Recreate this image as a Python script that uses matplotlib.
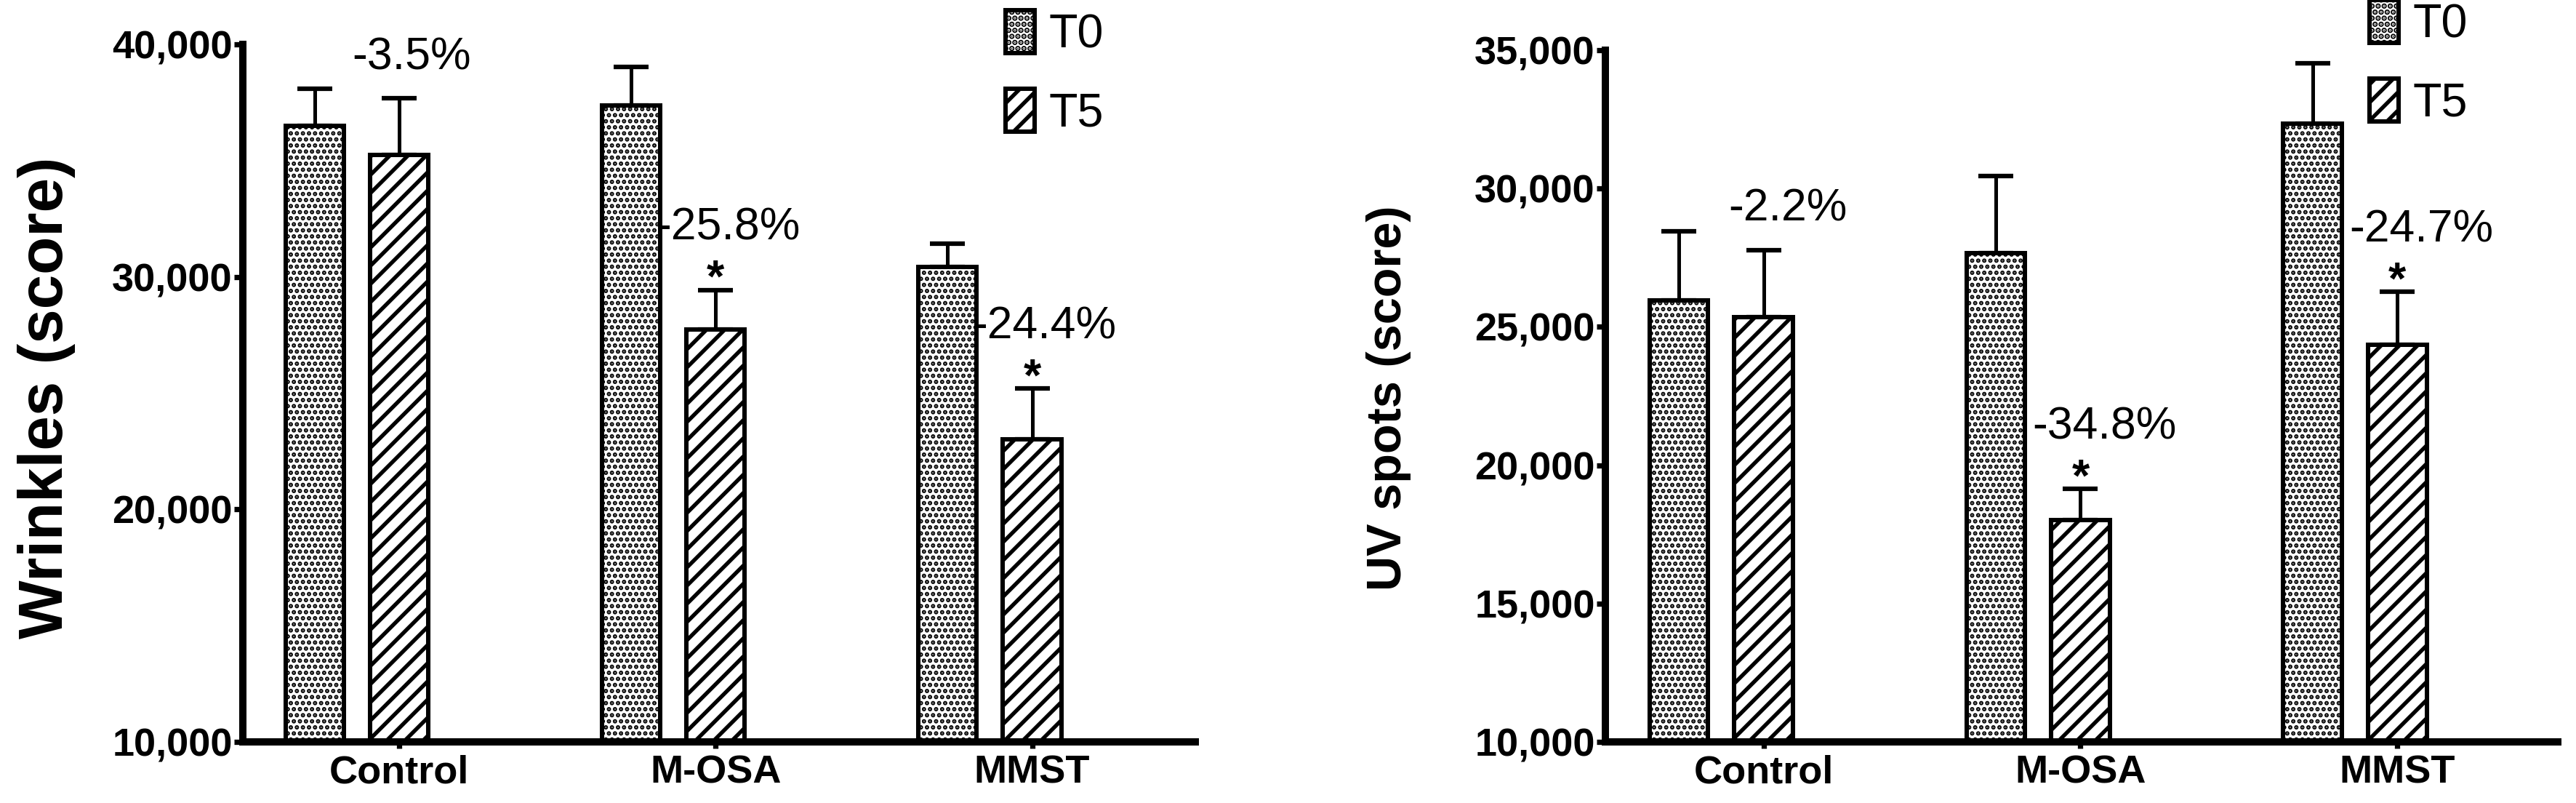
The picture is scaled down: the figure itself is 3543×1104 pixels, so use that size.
import matplotlib
matplotlib.use('Agg')
import matplotlib.pyplot as plt
from matplotlib.patches import Patch
from matplotlib.ticker import FuncFormatter
import numpy as np

# data
groups = ['Control', 'M-OSA', 'MMST']
series = ['T0', 'T5']

wrinkles_t0 = [36500, 37380, 30440]
wrinkles_t0_err = [1600, 1660, 980]
wrinkles_t5 = [35230, 27730, 23000]
wrinkles_t5_err = [2460, 1710, 2200]
wrinkles_pct = ['-3.5%', '-25.8%', '-24.4%']
wrinkles_star = [False, True, True]
wrinkles_ticks = [10000, 20000, 30000, 40000]

uv_t0 = [25950, 27670, 32340]
uv_t0_err = [2500, 2770, 2180]
uv_t5 = [25350, 18030, 24350]
uv_t5_err = [2430, 1120, 1910]
uv_pct = ['-2.2%', '-34.8%', '-24.7%']
uv_star = [False, True, True]
uv_ticks = [10000, 15000, 20000, 25000, 30000, 35000]

DPI = 150
W, H = 3543, 1104
OFF = 0.134
BW = 0.184
DOT_LW = 2.0
LINE_LW = 2.6

plt.rcParams['font.family'] = ['Liberation Sans', 'DejaVu Sans']
plt.rcParams['hatch.color'] = 'black'


def draw_panel(ax, t0, t0_err, t5, t5_err, pct, star, ticks, xlim, ylabel, label_size, label_x, pct_dx):
	x = np.arange(len(groups))

	plt.rcParams['hatch.linewidth'] = DOT_LW
	b0 = ax.bar(x - OFF, t0, BW, color='white', edgecolor='black', linewidth=2.9, hatch='...', zorder=2)
	for p in b0:
		if hasattr(p, 'set_hatch_linewidth'):
			p.set_hatch_linewidth(DOT_LW)
	plt.rcParams['hatch.linewidth'] = LINE_LW
	b1 = ax.bar(x + OFF, t5, BW, color='white', edgecolor='black', linewidth=2.9, hatch='//', zorder=2)
	for p in b1:
		if hasattr(p, 'set_hatch_linewidth'):
			p.set_hatch_linewidth(LINE_LW)

	zeros = np.zeros(len(groups))
	ax.errorbar(x - OFF, t0, yerr=[zeros, t0_err], fmt='none', ecolor='black',
		elinewidth=2.4, capsize=11.5, capthick=3, zorder=1)
	ax.errorbar(x + OFF, t5, yerr=[zeros, t5_err], fmt='none', ecolor='black',
		elinewidth=2.4, capsize=11.5, capthick=3, zorder=1)

	for i in range(len(groups)):
		top = t5[i] + t5_err[i]
		if star[i]:
			ax.annotate('*', xy=(x[i] + OFF, top), xytext=(0, -1), textcoords='offset points',
				ha='center', va='baseline', fontsize=30, fontweight='bold')
			dy = 41
		else:
			dy = 27
		ax.annotate(pct[i], xy=(x[i] + OFF, top), xytext=(pct_dx, dy), textcoords='offset points',
			ha='center', va='center', fontsize=30)

	ax.set_xlim(xlim)
	ax.set_ylim(ticks[0], ticks[-1])
	ax.set_yticks(ticks)
	ax.yaxis.set_major_formatter(FuncFormatter(lambda v, p: '{:,.0f}'.format(v)))
	ax.set_xticks(x + OFF)
	ax.set_xticklabels(groups)

	for s in ['top', 'right']:
		ax.spines[s].set_visible(False)
	for s in ['left', 'bottom']:
		ax.spines[s].set_linewidth(4.8)
	ax.tick_params(axis='y', length=5.8, width=3.5, pad=1, labelsize=26)
	ax.tick_params(axis='x', length=4.3, width=3.5, pad=4, labelsize=26)
	for t in ax.get_xticklabels() + ax.get_yticklabels():
		t.set_fontweight('bold')

	ax.figure.text(label_x, 0.5045, ylabel, rotation=90, ha='center', va='center',
		fontsize=label_size, fontweight='bold')


def make_legend(fig, ax, x, y):
	plt.rcParams['hatch.linewidth'] = DOT_LW
	h0 = Patch(facecolor='white', edgecolor='black', linewidth=2.9, hatch='...')
	plt.rcParams['hatch.linewidth'] = LINE_LW
	h1 = Patch(facecolor='white', edgecolor='black', linewidth=2.9, hatch='//')
	ax.legend([h0, h1], series, loc='upper left', bbox_to_anchor=(x, y),
		bbox_transform=fig.transFigure, frameon=False, fontsize=31,
		handlelength=0.62, handleheight=1.02, handletextpad=0.3,
		labelspacing=0.68, borderpad=0, borderaxespad=0)


def main():
	fig = plt.figure(figsize=(W / DPI, H / DPI), dpi=DPI)

	ax1 = fig.add_axes([334 / W, 1 - 1020 / H, 1310 / W, (1020 - 61) / H])
	draw_panel(ax1, wrinkles_t0, wrinkles_t0_err, wrinkles_t5, wrinkles_t5_err,
		wrinkles_pct, wrinkles_star, wrinkles_ticks, (-0.361, 2.65),
		'Wrinkles (score)', 41, 64 / W, 8)
	make_legend(fig, ax1, 1383 / W, 1 - 14 / H)

	ax2 = fig.add_axes([2208 / W, 1 - 1020 / H, 1310 / W, (1020 - 69) / H])
	draw_panel(ax2, uv_t0, uv_t0_err, uv_t5, uv_t5_err,
		uv_pct, uv_star, uv_ticks, (-0.365, 2.64),
		'UV spots (score)', 32, 1910 / W, 16)
	make_legend(fig, ax2, 3259 / W, 1.0)

	fig.savefig('out.png', dpi=DPI)


if __name__ == '__main__': main()
